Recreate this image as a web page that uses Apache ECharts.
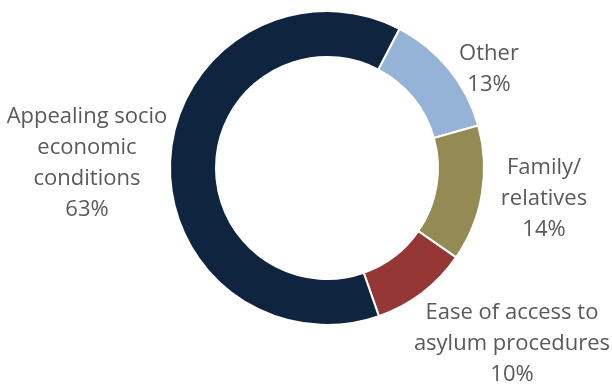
<!DOCTYPE html>
<html>
<head>
<meta charset="utf-8">
<script src="https://cdn.jsdelivr.net/npm/echarts@6/dist/echarts.min.js"></script>
<style>
  html, body { margin: 0; padding: 0; background: #ffffff; }
  #chart { width: 612px; height: 385px; }
</style>
</head>
<body>
<div id="chart"></div>
<script>
// Reasons for choosing the destination country (share of respondents, %)
const categories = [
  'Other',
  'Family/\nrelatives',
  'Ease of access to\nasylum procedures',
  'Appealing socio\neconomic\nconditions'
];
const shares = [13, 14, 10, 63];
const sliceColors = ['#95b3d7', '#948a54', '#953735', '#0f243e'];

// Where each slice's label block is centred
const labelCentres = [[489, 69], [544, 199], [512, 344], [87, 163]];

const chart = echarts.init(document.getElementById('chart'), null, { renderer: 'canvas' });

chart.setOption({
  animation: false,
  series: [{
    type: 'pie',
    center: [327, 168],
    radius: [111, 157],
    startAngle: 62.5,
    clockwise: true,
    avoidLabelOverlap: false,
    itemStyle: { borderColor: '#ffffff', borderWidth: 2 },
    label: {
      show: true,
      position: 'outside',
      formatter: '{b}\n{c}%',
      fontFamily: '"Open Sans", sans-serif',
      fontSize: 22,
      lineHeight: 31,
      color: '#595959',
      align: 'center'
    },
    labelLine: { show: false },
    labelLayout: function (params) {
      const p = labelCentres[params.dataIndex];
      return { x: p[0], y: p[1], align: 'center', verticalAlign: 'middle' };
    },
    emphasis: { disabled: true },
    data: categories.map(function (name, i) {
      return { name: name, value: shares[i], itemStyle: { color: sliceColors[i] } };
    })
  }]
});
</script>
</body>
</html>
